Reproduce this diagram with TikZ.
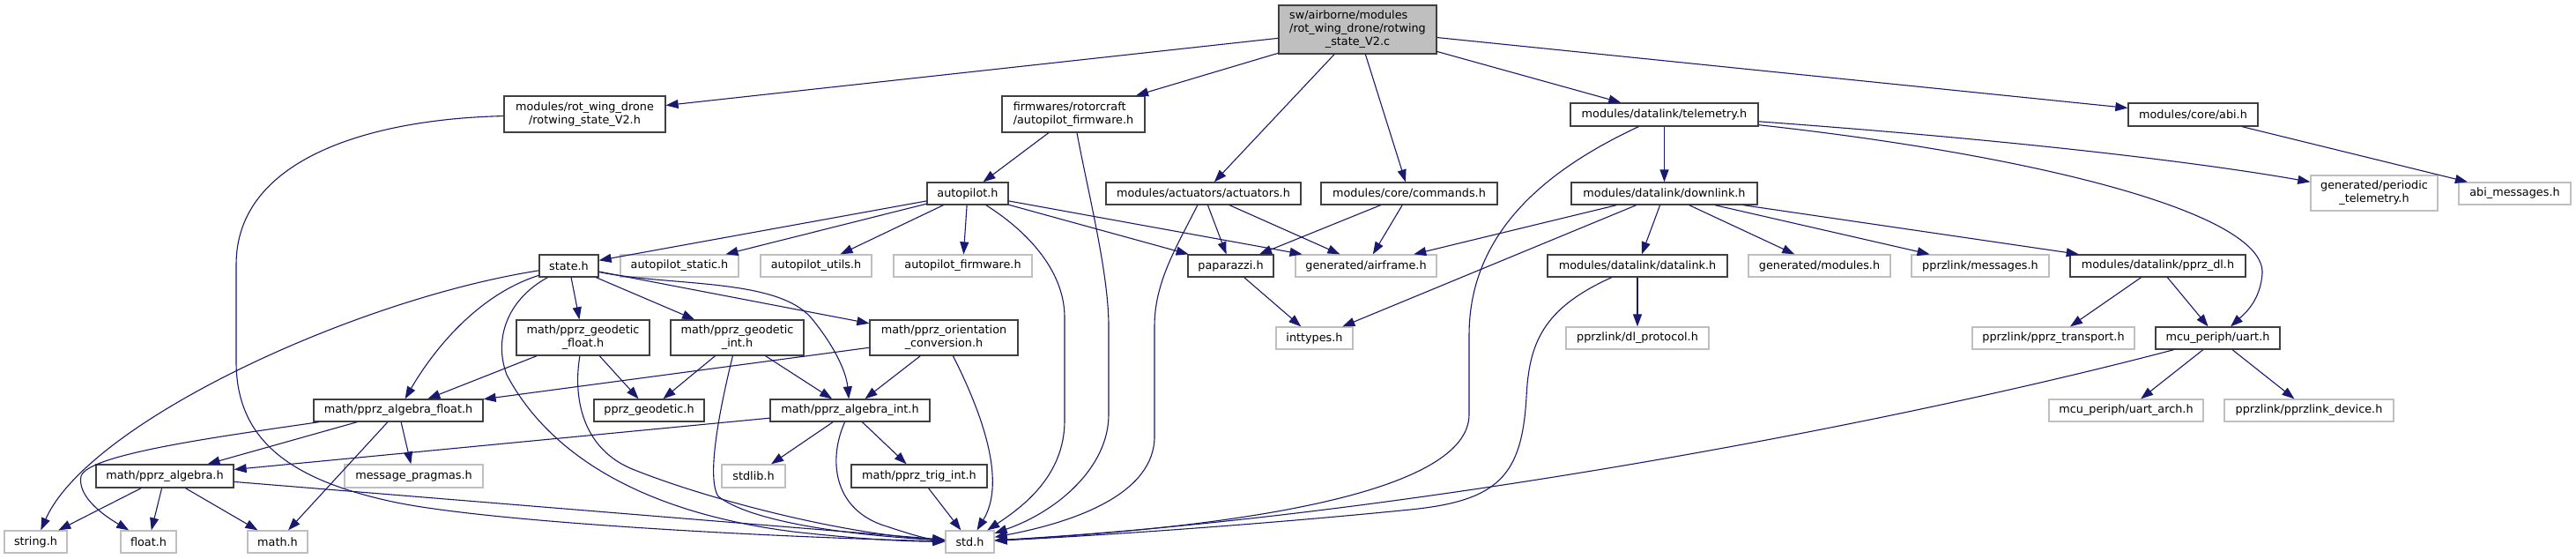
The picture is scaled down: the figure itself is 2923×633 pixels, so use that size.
\documentclass[tikz,border=0pt]{standalone}
\usepackage{fontspec}
\setmainfont{DejaVu Sans}
\usetikzlibrary{arrows.meta}
\definecolor{edgec}{HTML}{191970}
\definecolor{frm}{HTML}{404040}
\definecolor{gfrm}{HTML}{BFBFBF}
\definecolor{rootfill}{HTML}{BFBFBF}
\tikzset{
  box/.style={draw=frm, line width=1.3pt, inner sep=0pt, text=black, font=\fontsize{12.8}{15}\selectfont},
  gbox/.style={box, draw=gfrm},
  e/.style={draw=edgec, line width=1.1pt, -{Triangle[length=14pt,width=10pt]}}
}
\begin{document}
\begin{tikzpicture}[x=1pt,y=-1pt]
\useasboundingbox[fill=white] (0,0) rectangle (2923,633);
% nodes
\node[box, fill=rootfill, minimum width=179pt, minimum height=55pt] (root) at (1540.5,33.5)
  {\begin{tabular}{@{}l@{}}sw/airborne/modules\\/rot\_wing\_drone/rotwing\\\multicolumn{1}{@{}c@{}}{\_state\_V2.c}\end{tabular}};
\node[box, align=center, minimum width=183pt, minimum height=41pt] (rotw) at (663.5,129.5) {modules/rot\_wing\_drone\\/rotwing\_state\_V2.h};
\node[box, align=left, minimum width=162pt, minimum height=41pt] (fwap) at (1218,129.5) {firmwares/rotorcraft\\/autopilot\_firmware.h};
\node[box, minimum width=92pt, minimum height=25pt] (autop) at (1098,219.5) {autopilot.h};
\node[box, minimum width=221pt, minimum height=25pt] (act) at (1365.5,219.5) {modules/actuators/actuators.h};
\node[box, minimum width=200pt, minimum height=25pt] (cmd) at (1599,219.5) {modules/core/commands.h};
\node[box, minimum width=213pt, minimum height=26pt] (tel) at (1888.5,130) {modules/datalink/telemetry.h};
\node[box, minimum width=147pt, minimum height=26pt] (abi) at (2488.5,130) {modules/core/abi.h};
\node[box, minimum width=211pt, minimum height=25pt] (down) at (1888.5,219.5) {modules/datalink/downlink.h};
\node[box, minimum width=67pt, minimum height=25pt] (state) at (645.5,301.5) {state.h};
\node[gbox, minimum width=134pt, minimum height=25pt] (apst) at (771,301.5) {autopilot\_static.h};
\node[gbox, minimum width=126pt, minimum height=25pt] (aput) at (926,301.5) {autopilot\_utils.h};
\node[gbox, minimum width=157pt, minimum height=25pt] (apfw) at (1092.5,301.5) {autopilot\_firmware.h};
\node[box, minimum width=97pt, minimum height=25pt] (pap) at (1396.5,301.5) {paparazzi.h};
\node[gbox, minimum width=160pt, minimum height=25pt] (airf) at (1550,301.5) {generated/airframe.h};
\node[box, minimum width=204pt, minimum height=25pt] (dlk) at (1858,301.5) {modules/datalink/datalink.h};
\node[gbox, minimum width=161pt, minimum height=25pt] (gmod) at (2064.5,301.5) {generated/modules.h};
\node[gbox, minimum width=156pt, minimum height=25pt] (pmsg) at (2247,301.5) {pprzlink/messages.h};
\node[box, minimum width=199pt, minimum height=25pt] (pdl) at (2448.5,301.5) {modules/datalink/pprz\_dl.h};
\node[gbox, align=center, minimum width=144pt, minimum height=40pt] (pertel) at (2694,219) {generated/periodic\\\_telemetry.h};
\node[gbox, minimum width=127pt, minimum height=25pt] (abimsg) at (2853.5,219.5) {abi\_messages.h};
\node[box, align=center, minimum width=151pt, minimum height=40pt] (geof) at (661.5,383) {math/pprz\_geodetic\\\_float.h};
\node[box, align=center, minimum width=151pt, minimum height=40pt] (geoi) at (836.5,383) {math/pprz\_geodetic\\\_int.h};
\node[box, align=center, minimum width=168pt, minimum height=40pt] (orient) at (1071,383) {math/pprz\_orientation\\\_conversion.h};
\node[gbox, minimum width=87pt, minimum height=25pt] (intt) at (1491.5,383.5) {inttypes.h};
\node[gbox, minimum width=162pt, minimum height=25pt] (dlp) at (1858,383.5) {pprzlink/dl\_protocol.h};
\node[gbox, minimum width=184pt, minimum height=25pt] (ptr) at (2330,383.5) {pprzlink/pprz\_transport.h};
\node[box, minimum width=141pt, minimum height=25pt] (uart) at (2516.5,383.5) {mcu\_periph/uart.h};
\node[box, minimum width=192pt, minimum height=25pt] (algf) at (452,465.5) {math/pprz\_algebra\_float.h};
\node[box, minimum width=125pt, minimum height=25pt] (geod) at (736.5,465.5) {pprz\_geodetic.h};
\node[box, minimum width=181pt, minimum height=25pt] (algi) at (964.5,465.5) {math/pprz\_algebra\_int.h};
\node[gbox, minimum width=175pt, minimum height=25pt] (uarch) at (2412.5,465.5) {mcu\_periph/uart\_arch.h};
\node[gbox, minimum width=192pt, minimum height=25pt] (pdev) at (2620,465.5) {pprzlink/pprzlink\_device.h};
\node[box, minimum width=156pt, minimum height=26pt] (alg) at (187,540) {math/pprz\_algebra.h};
\node[gbox, minimum width=157pt, minimum height=26pt] (msgp) at (469.5,540) {message\_pragmas.h};
\node[gbox, minimum width=72pt, minimum height=26pt] (stdlib) at (855,540) {stdlib.h};
\node[box, minimum width=154pt, minimum height=26pt] (trig) at (1043,540) {math/pprz\_trig\_int.h};
\node[gbox, minimum width=71pt, minimum height=25pt] (string) at (40.5,614.5) {string.h};
\node[gbox, minimum width=63pt, minimum height=25pt] (float) at (168.5,614.5) {float.h};
\node[gbox, minimum width=68pt, minimum height=25pt] (math) at (315,614.5) {math.h};
\node[gbox, minimum width=55pt, minimum height=25pt] (std) at (1100.5,614.5) {std.h};
% straight edges
\foreach \a/\b in {root/rotw, root/fwap, root/act, root/cmd, root/tel, root/abi,
  fwap/autop, autop/state, autop/apst, autop/aput, autop/apfw, autop/pap, autop/airf,
  act/pap, act/airf, cmd/pap, cmd/airf, pap/intt, tel/down, abi/abimsg,
  down/airf, down/intt, down/dlk, down/gmod, down/pmsg, down/pdl, dlk/dlp,
  pdl/ptr, pdl/uart, uart/uarch, uart/pdev, state/geof, state/geoi, state/orient,
  geof/algf, geof/geod, geoi/geod, geoi/algi, orient/algf, orient/algi,
  algi/alg, algi/stdlib, algi/trig, trig/std, algf/alg, algf/math, algf/msgp,
  alg/string, alg/float, alg/math, alg/std}
  \draw[e] (\a) -- (\b);
% curved edges
\draw[e] (tel) .. controls (2300,160) and (2500,185) .. (pertel);
\draw[e] (rotw) .. controls (420,135) and (268,180) .. (268,300) -- (268,410) .. controls (268,500) and (330,545) .. (450,570) .. controls (570,594) and (900,610) .. (std);
\draw[e] (state) .. controls (575,340) and (560,385) .. (575,425) .. controls (620,510) and (720,580) .. (900,603) .. controls (980,612) and (1030,614) .. (std);
\draw[e] (geof) .. controls (650,450) and (660,510) .. (720,533) .. controls (800,565) and (950,605) .. (std);
\draw[e] (geoi) .. controls (820,450) and (800,540) .. (815,563) .. controls (850,590) and (950,606) .. (std);
\draw[e] (algi) .. controls (940,520) and (945,575) .. (1000,595) .. controls (1030,605) and (1050,611) .. (std);
\draw[e] (orient) .. controls (1120,480) and (1140,550) .. (std);
\draw[e] (autop) .. controls (1170,265) and (1208,310) .. (1208,360) -- (1208,477) .. controls (1208,540) and (1160,575) .. (std);
\draw[e] (fwap) .. controls (1235,220) and (1258,310) .. (1258,370) -- (1258,470) .. controls (1258,530) and (1200,580) .. (std);
\draw[e] (act) .. controls (1335,280) and (1310,320) .. (1310,370) -- (1310,495) .. controls (1310,560) and (1220,592) .. (std);
\draw[e] (tel) .. controls (1760,190) and (1667,260) .. (1667,380) -- (1667,470) .. controls (1667,560) and (1400,598) .. (std);
\draw[e] (dlk) .. controls (1750,350) and (1735,390) .. (1732,450) .. controls (1727,540) and (1700,568) .. (1600,578) .. controls (1400,598) and (1200,610) .. (std);
\draw[e] (uart) .. controls (2150,480) and (1600,585) .. (std);
\draw[e] (tel) .. controls (2300,175) and (2570,240) .. (2567,310) .. controls (2565,340) and (2548,355) .. (uart);
\draw[e] (state) .. controls (400,340) and (100,480) .. (string);
\draw[e] (state) .. controls (540,335) and (490,400) .. (algf);
\draw[e] (state) .. controls (760,325) and (880,315) .. (920,360) .. controls (945,390) and (960,420) .. (algi);
\draw[e] (algf) .. controls (250,495) and (100,515) .. (92,540) .. controls (88,560) and (110,580) .. (float);
\end{tikzpicture}
\end{document}
